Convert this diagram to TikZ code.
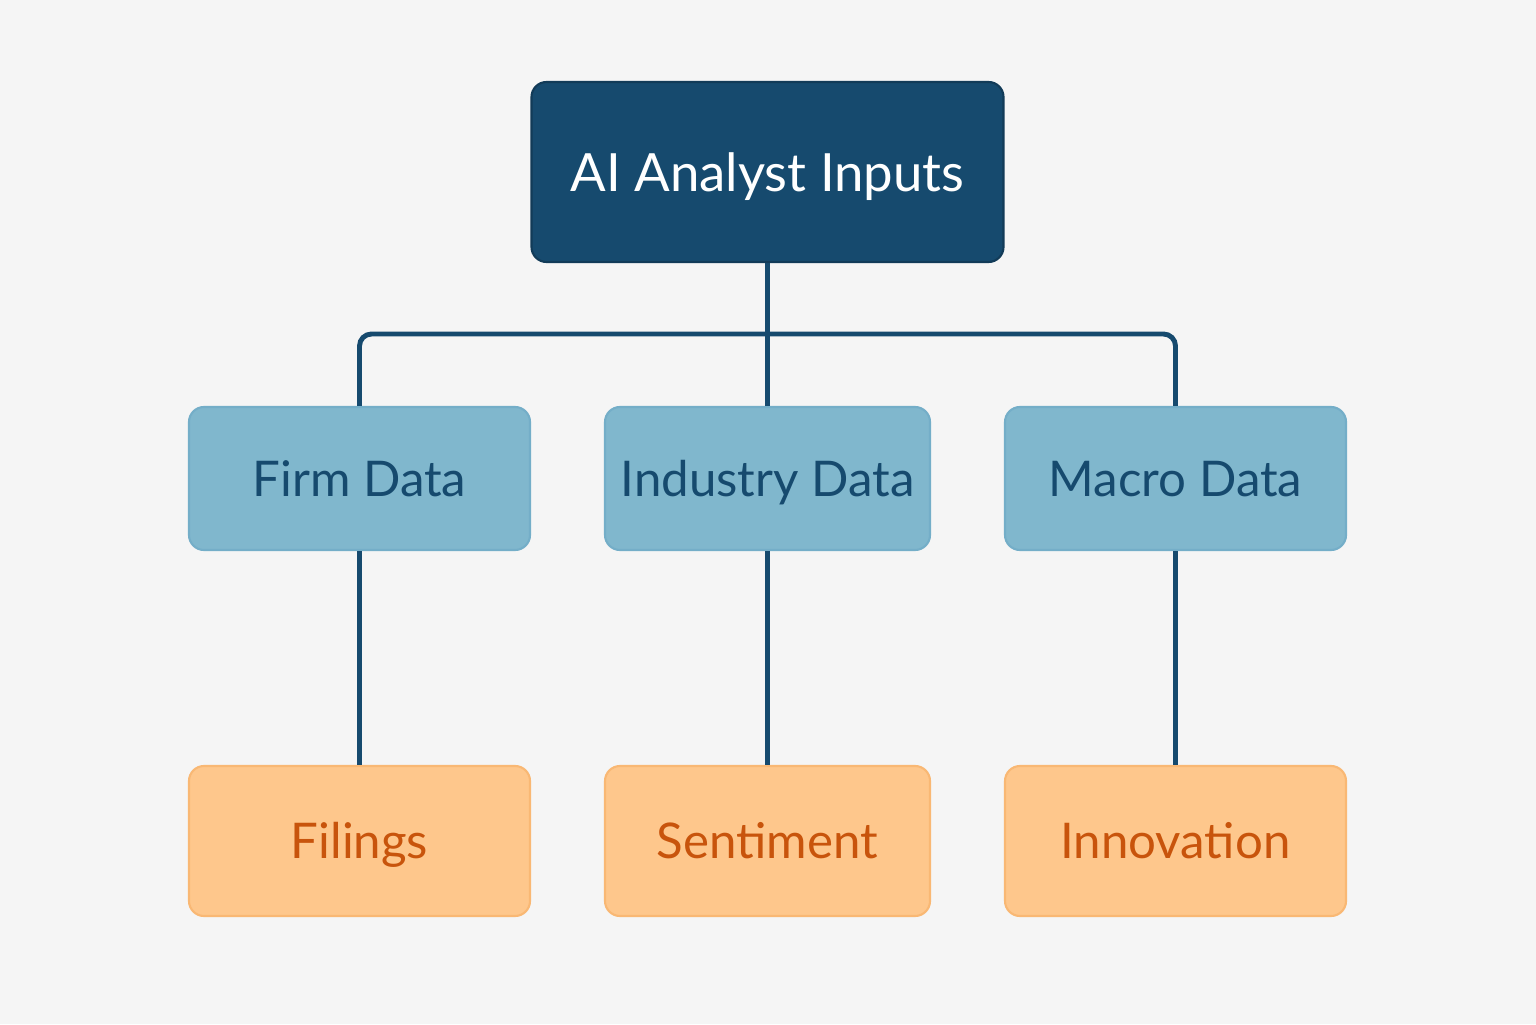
\documentclass[tikz,border=0pt]{standalone}
\usepackage{fontspec}
\setmainfont{Lato}
\definecolor{navy}{HTML}{164A6E}
\definecolor{skyfill}{HTML}{80B7CD}
\definecolor{skyline}{HTML}{74AEC8}
\definecolor{peach}{HTML}{FEC78C}
\definecolor{peachline}{HTML}{F9B874}
\definecolor{rust}{HTML}{C8540C}
\definecolor{paper}{HTML}{F5F5F5}

\begin{document}
\begin{tikzpicture}[
	rootbox/.style={rectangle, rounded corners=0.15cm, fill=navy, draw=navy!80!black, line width=0.6pt,
		minimum width=4.72cm, minimum height=1.80cm, text=white, text height=11pt, text depth=0pt,
		font=\fontsize{15}{18}\selectfont},
	databox/.style={rectangle, rounded corners=0.15cm, fill=skyfill, draw=skyline, line width=0.6pt,
		minimum height=1.43cm, inner sep=2pt, text=navy, text height=10.2pt, text depth=0pt,
		font=\fontsize{14}{17}\selectfont},
	leafbox/.style={rectangle, rounded corners=0.15cm, fill=peach, draw=peachline, line width=0.6pt,
		minimum height=1.50cm, inner sep=2pt, text=rust, text height=10.2pt, text depth=0pt,
		font=\fontsize{14}{17}\selectfont},
	link/.style={draw=navy, line width=1.4pt}]
	\fill[paper] (0,0) rectangle (15.36,10.24);
	\node[rootbox] (root) at (7.675,8.52) {AI Analyst Inputs};
	\foreach \x/\w/\name/\txt in {3.595/3.41/firm/Firm Data, 7.675/3.25/ind/Industry Data, 11.755/3.41/macro/Macro Data} {
		\node[databox, minimum width=\w cm] (\name) at (\x,5.455) {\txt};
	}
	\foreach \x/\w/\name/\txt in {3.595/3.41/fil/Filings, 7.675/3.25/sen/Sentiment, 11.755/3.41/inn/Innovation} {
		\node[leafbox, minimum width=\w cm] (\name) at (\x,1.83) {\txt};
	}
	\coordinate (bus) at (7.675,6.90);
	% tree links
	\draw[link] (root.south) -- (ind.north);
	\draw[link, rounded corners=0.12cm] (firm.north) |- (bus) -| (macro.north);
	\foreach \a/\b in {firm/fil, ind/sen, macro/inn} {
		\draw[link] (\a.south) -- (\b.north);
	}
\end{tikzpicture}
\end{document}
